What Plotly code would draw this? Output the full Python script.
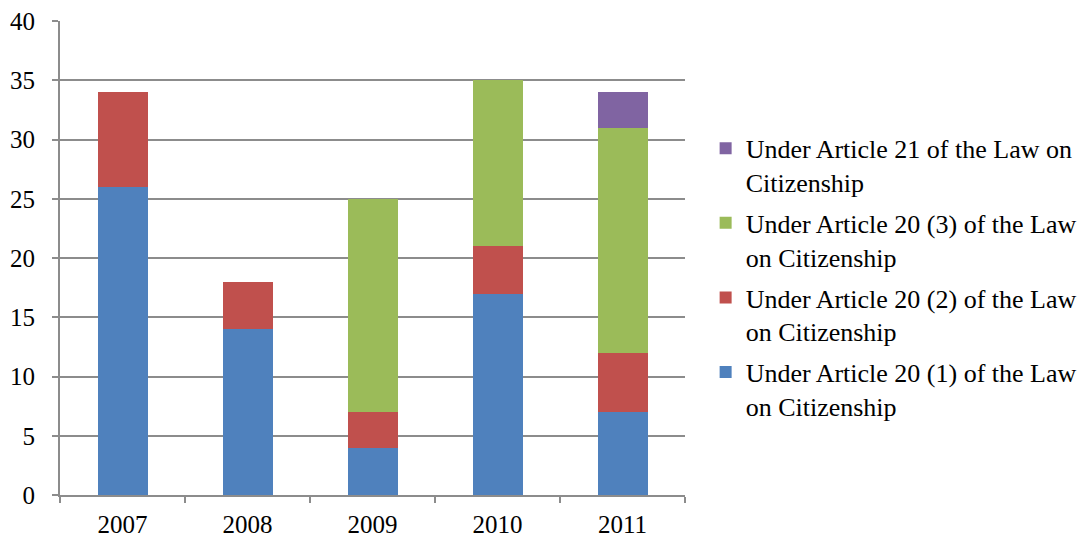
import plotly.graph_objects as go

years = ["2007", "2008", "2009", "2010", "2011"]
art20_1 = [26, 14, 4, 17, 7]
art20_2 = [8, 4, 3, 4, 5]
art20_3 = [0, 0, 18, 14, 19]
art21 = [0, 0, 0, 0, 3]

series = [
    ("Under Article 20 (1) of the Law<br>on Citizenship", art20_1, "#4F81BD"),
    ("Under Article 20 (2) of the Law<br>on Citizenship", art20_2, "#C0504D"),
    ("Under Article 20 (3) of the Law<br>on Citizenship", art20_3, "#9BBB59"),
    ("Under Article 21 of the Law on<br>Citizenship", art21, "#8064A2"),
]

fig = go.Figure()
n = len(series)
for i, (name, vals, color) in enumerate(series):
    fig.add_trace(go.Bar(x=years, y=vals, name=name, marker_color=color,
                         marker_line_width=0, legendgroup=str(i),
                         legendrank=n - i))

font = dict(family="Liberation Serif, Times New Roman, serif", size=25, color="#000000")
legfont = dict(family="Liberation Serif, Times New Roman, serif", size=26, color="#000000")
fig.update_layout(
    barmode="stack",
    bargap=0.6,
    width=1091, height=539,
    margin=dict(l=60, r=406, t=21, b=44, autoexpand=False),
    plot_bgcolor="white", paper_bgcolor="white",
    font=font,
    showlegend=True,
    legend=dict(x=1.033, xanchor="left", y=0.781, yanchor="top",
                traceorder="grouped", tracegroupgap=4, valign="top",
                font=legfont, itemwidth=30),
    xaxis=dict(showline=True, linecolor="#8C8C8C", linewidth=2, ticks="outside",
               tickson="boundaries", ticklen=6, tickcolor="#8C8C8C", tickwidth=2,
               showgrid=False, tickfont=font, automargin=False, ticklabelstandoff=6),
    yaxis=dict(range=[0, 40], dtick=5, showline=True, linecolor="#8C8C8C", linewidth=2,
               ticks="outside", ticklen=6, tickcolor="#8C8C8C", tickwidth=2,
               showgrid=True, gridcolor="#8C8C8C", gridwidth=2, zeroline=False,
               tickfont=font, automargin=False, ticklabelstandoff=12),
)
fig.write_html("out.html", config={"displayModeBar": False},
               post_script="document.body.style.margin='0';document.body.style.overflow='hidden';")
